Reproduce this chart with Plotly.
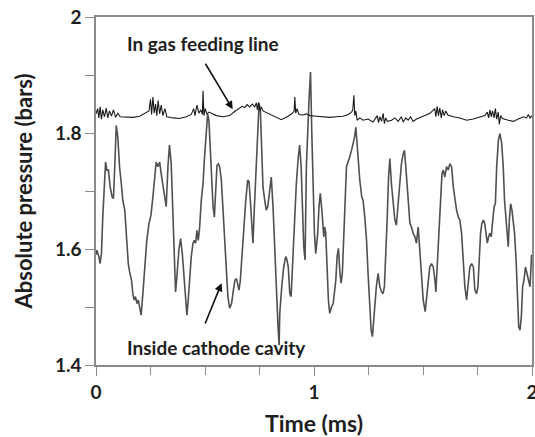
import plotly.graph_objects as go

# Pressure inside the cathode cavity (time in ms, pressure in bar)
cavity_t = [
    0.000, 0.004, 0.013, 0.019, 0.025, 0.031, 0.044, 0.050, 0.057, 0.065, 0.074, 0.080, 0.086, 0.093,
    0.100, 0.108, 0.116, 0.123, 0.132, 0.139, 0.148, 0.154, 0.163, 0.169, 0.175, 0.181, 0.188, 0.194,
    0.200, 0.207, 0.215, 0.223, 0.233, 0.243, 0.252, 0.261, 0.270, 0.276, 0.284, 0.292, 0.299, 0.307,
    0.314, 0.322, 0.330, 0.337, 0.345, 0.353, 0.360, 0.365, 0.371, 0.380, 0.388, 0.396, 0.406, 0.417,
    0.423, 0.429, 0.437, 0.445, 0.451, 0.457, 0.463, 0.469, 0.475, 0.483, 0.491, 0.498, 0.506, 0.512,
    0.518, 0.524, 0.530, 0.537, 0.543, 0.549, 0.555, 0.561, 0.567, 0.575, 0.582, 0.590, 0.598, 0.605,
    0.613, 0.622, 0.628, 0.637, 0.644, 0.650, 0.656, 0.662, 0.668, 0.677, 0.687, 0.696, 0.702, 0.708,
    0.714, 0.720, 0.726, 0.735, 0.743, 0.748, 0.754, 0.760, 0.766, 0.774, 0.781, 0.788, 0.797, 0.804,
    0.812, 0.820, 0.827, 0.835, 0.840, 0.843, 0.852, 0.861, 0.870, 0.876, 0.882, 0.889, 0.895, 0.901,
    0.910, 0.919, 0.928, 0.934, 0.941, 0.947, 0.953, 0.959, 0.965, 0.977, 0.984, 0.990, 0.996, 1.002,
    1.008, 1.017, 1.023, 1.029, 1.036, 1.042, 1.045, 1.049, 1.054, 1.060, 1.066, 1.072, 1.080, 1.088,
    1.094, 1.100, 1.106, 1.112, 1.118, 1.124, 1.130, 1.137, 1.143, 1.149, 1.157, 1.164, 1.172, 1.180,
    1.186, 1.192, 1.198, 1.204, 1.210, 1.219, 1.225, 1.233, 1.241, 1.248, 1.256, 1.262, 1.268, 1.274,
    1.280, 1.286, 1.294, 1.302, 1.310, 1.317, 1.323, 1.329, 1.336, 1.342, 1.348, 1.355, 1.363, 1.371,
    1.378, 1.386, 1.394, 1.401, 1.409, 1.415, 1.421, 1.427, 1.433, 1.440, 1.447, 1.455, 1.463, 1.470,
    1.478, 1.486, 1.493, 1.501, 1.510, 1.516, 1.524, 1.531, 1.539, 1.547, 1.555, 1.559, 1.565, 1.574,
    1.580, 1.587, 1.593, 1.600, 1.608, 1.616, 1.623, 1.631, 1.639, 1.646, 1.654, 1.662, 1.669, 1.677,
    1.685, 1.692, 1.700, 1.708, 1.715, 1.723, 1.731, 1.738, 1.746, 1.752, 1.758, 1.764, 1.770, 1.777,
    1.783, 1.789, 1.795, 1.801, 1.807, 1.813, 1.820, 1.826, 1.832, 1.838, 1.846, 1.853, 1.861, 1.868,
    1.874, 1.880, 1.886, 1.891, 1.896, 1.902, 1.908, 1.914, 1.920, 1.927, 1.933, 1.939, 1.945, 1.951,
    1.957, 1.963, 1.970, 1.976, 1.983, 1.991, 1.998,
]
cavity_p = [
    1.590, 1.598, 1.587, 1.575, 1.592, 1.655, 1.750, 1.736, 1.736, 1.707, 1.690, 1.687, 1.742, 1.813,
    1.793, 1.742, 1.713, 1.684, 1.667, 1.627, 1.575, 1.561, 1.546, 1.523, 1.512, 1.518, 1.506, 1.512,
    1.500, 1.486, 1.523, 1.569, 1.615, 1.644, 1.658, 1.690, 1.730, 1.750, 1.742, 1.750, 1.730, 1.707,
    1.696, 1.673, 1.742, 1.779, 1.747, 1.661, 1.587, 1.526, 1.552, 1.598, 1.618, 1.592, 1.541, 1.486,
    1.512, 1.552, 1.587, 1.610, 1.615, 1.610, 1.632, 1.615, 1.635, 1.684, 1.713, 1.759, 1.805, 1.833,
    1.822, 1.770, 1.724, 1.673, 1.655, 1.707, 1.744, 1.747, 1.742, 1.719, 1.667, 1.604, 1.558, 1.518,
    1.498, 1.506, 1.523, 1.546, 1.549, 1.538, 1.529, 1.546, 1.581, 1.627, 1.684, 1.719, 1.716, 1.684,
    1.644, 1.610, 1.667, 1.753, 1.822, 1.851, 1.839, 1.770, 1.707, 1.684, 1.667, 1.673, 1.701, 1.724,
    1.673, 1.598, 1.523, 1.466, 1.434, 1.489, 1.535, 1.569, 1.587, 1.581, 1.569, 1.523, 1.518, 1.569,
    1.638, 1.713, 1.759, 1.779, 1.742, 1.673, 1.604, 1.581, 1.742, 1.856, 1.905, 1.799, 1.713, 1.627,
    1.592, 1.627, 1.673, 1.696, 1.667, 1.638, 1.621, 1.638, 1.627, 1.569, 1.512, 1.489, 1.500, 1.506,
    1.523, 1.546, 1.587, 1.601, 1.564, 1.541, 1.558, 1.615, 1.684, 1.742, 1.750, 1.759, 1.770, 1.782,
    1.793, 1.810, 1.776, 1.742, 1.719, 1.690, 1.684, 1.655, 1.615, 1.558, 1.500, 1.460, 1.449, 1.477,
    1.512, 1.535, 1.558, 1.535, 1.526, 1.523, 1.535, 1.581, 1.655, 1.724, 1.756, 1.713, 1.673, 1.650,
    1.641, 1.684, 1.724, 1.747, 1.764, 1.770, 1.742, 1.707, 1.667, 1.644, 1.638, 1.627, 1.621, 1.610,
    1.638, 1.598, 1.552, 1.512, 1.492, 1.512, 1.546, 1.569, 1.575, 1.569, 1.546, 1.526, 1.569, 1.627,
    1.684, 1.730, 1.736, 1.724, 1.742, 1.736, 1.747, 1.742, 1.707, 1.684, 1.667, 1.655, 1.650, 1.627,
    1.569, 1.535, 1.512, 1.546, 1.569, 1.575, 1.569, 1.529, 1.523, 1.535, 1.592, 1.627, 1.644, 1.650,
    1.644, 1.627, 1.610, 1.621, 1.627, 1.621, 1.655, 1.673, 1.678, 1.742, 1.788, 1.799, 1.782, 1.742,
    1.684, 1.650, 1.615, 1.604, 1.650, 1.678, 1.667, 1.650, 1.627, 1.581, 1.512, 1.466, 1.460, 1.483,
    1.535, 1.546, 1.569, 1.558, 1.546, 1.535, 1.590,
]

# Pressure in the gas feeding line
feed_t = [
    0.000, 0.008, 0.013, 0.019, 0.025, 0.031, 0.039, 0.047, 0.054, 0.062, 0.071, 0.080, 0.090, 0.100,
    0.111, 0.139, 0.169, 0.200, 0.223, 0.243, 0.250, 0.255, 0.261, 0.267, 0.273, 0.279, 0.285, 0.292,
    0.299, 0.307, 0.316, 0.325, 0.353, 0.383, 0.414, 0.437, 0.448, 0.454, 0.463, 0.472, 0.481, 0.488,
    0.491, 0.495, 0.501, 0.509, 0.518, 0.552, 0.583, 0.613, 0.636, 0.659, 0.671, 0.682, 0.693, 0.705,
    0.717, 0.728, 0.736, 0.740, 0.746, 0.752, 0.758, 0.766, 0.789, 0.820, 0.850, 0.881, 0.901, 0.909,
    0.912, 0.916, 0.922, 0.931, 0.950, 0.965, 0.981, 1.011, 1.042, 1.072, 1.103, 1.133, 1.157, 1.172,
    1.178, 1.183, 1.187, 1.192, 1.198, 1.210, 1.225, 1.248, 1.271, 1.290, 1.296, 1.302, 1.310, 1.317,
    1.323, 1.329, 1.337, 1.356, 1.371, 1.386, 1.401, 1.409, 1.421, 1.432, 1.443, 1.455, 1.470, 1.486,
    1.509, 1.532, 1.554, 1.559, 1.565, 1.571, 1.577, 1.584, 1.590, 1.597, 1.605, 1.614, 1.639, 1.669,
    1.700, 1.731, 1.761, 1.784, 1.795, 1.801, 1.807, 1.813, 1.819, 1.826, 1.832, 1.838, 1.845, 1.850,
    1.856, 1.865, 1.891, 1.914, 1.937, 1.960, 1.975, 1.983, 1.991, 2.000,
]
feed_p = [
    1.833, 1.842, 1.826, 1.845, 1.824, 1.840, 1.828, 1.843, 1.826, 1.838, 1.829, 1.840, 1.827, 1.834,
    1.828, 1.828, 1.827, 1.829, 1.834, 1.838, 1.858, 1.832, 1.862, 1.834, 1.850, 1.830, 1.856, 1.833,
    1.848, 1.830, 1.842, 1.828, 1.826, 1.825, 1.828, 1.832, 1.842, 1.830, 1.848, 1.834, 1.840, 1.832,
    1.873, 1.830, 1.842, 1.833, 1.836, 1.830, 1.828, 1.830, 1.837, 1.842, 1.846, 1.844, 1.849, 1.845,
    1.850, 1.845, 1.852, 1.840, 1.853, 1.838, 1.845, 1.838, 1.834, 1.828, 1.823, 1.829, 1.834, 1.838,
    1.862, 1.834, 1.842, 1.832, 1.831, 1.833, 1.830, 1.829, 1.828, 1.827, 1.828, 1.829, 1.832, 1.836,
    1.840, 1.865, 1.830, 1.838, 1.822, 1.826, 1.822, 1.824, 1.819, 1.830, 1.818, 1.828, 1.820, 1.834,
    1.816, 1.826, 1.820, 1.822, 1.826, 1.820, 1.828, 1.819, 1.826, 1.822, 1.828, 1.820, 1.824, 1.826,
    1.830, 1.834, 1.842, 1.828, 1.846, 1.830, 1.843, 1.826, 1.840, 1.830, 1.838, 1.831, 1.828, 1.826,
    1.822, 1.824, 1.828, 1.830, 1.836, 1.826, 1.840, 1.828, 1.838, 1.826, 1.842, 1.824, 1.836, 1.815,
    1.830, 1.825, 1.822, 1.820, 1.824, 1.828, 1.826, 1.832, 1.826, 1.830,
]

x_ticks = [0, 1, 2]
x_tick_text = ["0", "1", "2"]
y_ticks = [1.4, 1.6, 1.8, 2.0]
y_tick_text = ["1.4", "1.6", "1.8", "2"]

FONT = "Lato"
TEXT = "#1e1e1e"
AXIS = "#8a8a8a"

fig = go.Figure()
fig.add_trace(go.Scatter(
    x=cavity_t, y=cavity_p, mode="lines",
    line=dict(color="#505050", width=1.6),
    showlegend=False, hoverinfo="skip",
))
fig.add_trace(go.Scatter(
    x=feed_t, y=feed_p, mode="lines",
    line=dict(color="#1a1a1a", width=1.1),
    showlegend=False, hoverinfo="skip",
))

axis_common = dict(
    showgrid=False, zeroline=False, showline=True, linecolor=AXIS, linewidth=1.5,
    mirror=True, ticks="outside", ticklen=9, tickwidth=1.3, tickcolor=AXIS,
    tickfont=dict(family=FONT, size=19, color=TEXT, weight="bold"),
    automargin=False, ticklabeloverflow="allow",
)

fig.update_xaxes(
    range=[0, 2], tickvals=x_ticks, ticktext=x_tick_text,
    minor=dict(dtick=0.25, ticks="outside", ticklen=8, tickwidth=1.3, tickcolor=AXIS),
    title=dict(text="<b>Time (ms)</b>", font=dict(family=FONT, size=23, color=TEXT), standoff=17),
    **axis_common,
)
fig.update_yaxes(
    range=[1.4, 2.0], tickvals=y_ticks, ticktext=y_tick_text,
    minor=dict(dtick=0.1, ticks="outside", ticklen=9, tickwidth=1.3, tickcolor=AXIS),
    title=dict(text="<b>Absolute pressure (bars)</b>", font=dict(family=FONT, size=22, color=TEXT), standoff=16),
    **axis_common,
)

label_font = dict(family=FONT, size=19, color=TEXT)
fig.add_annotation(x=0.489, y=1.954, xref="x", yref="y", text="<b>In gas feeding line</b>",
                   showarrow=False, font=label_font)
fig.add_annotation(x=0.627, y=1.841, ax=0.498, ay=1.922, xref="x", yref="y", axref="x", ayref="y",
                   text="", showarrow=True, arrowhead=2, arrowsize=1, arrowwidth=1.6, arrowcolor="#111")
fig.add_annotation(x=0.553, y=1.431, xref="x", yref="y", text="<b>Inside cathode cavity</b>",
                   showarrow=False, font=label_font)
fig.add_annotation(x=0.576, y=1.541, ax=0.498, ay=1.469, xref="x", yref="y", axref="x", ayref="y",
                   text="", showarrow=True, arrowhead=2, arrowsize=1, arrowwidth=1.6, arrowcolor="#111")

fig.update_layout(
    width=535, height=437,
    margin=dict(l=96, r=3, t=17, b=72),
    paper_bgcolor="white", plot_bgcolor="white",
)

fig.write_html("out.html")
